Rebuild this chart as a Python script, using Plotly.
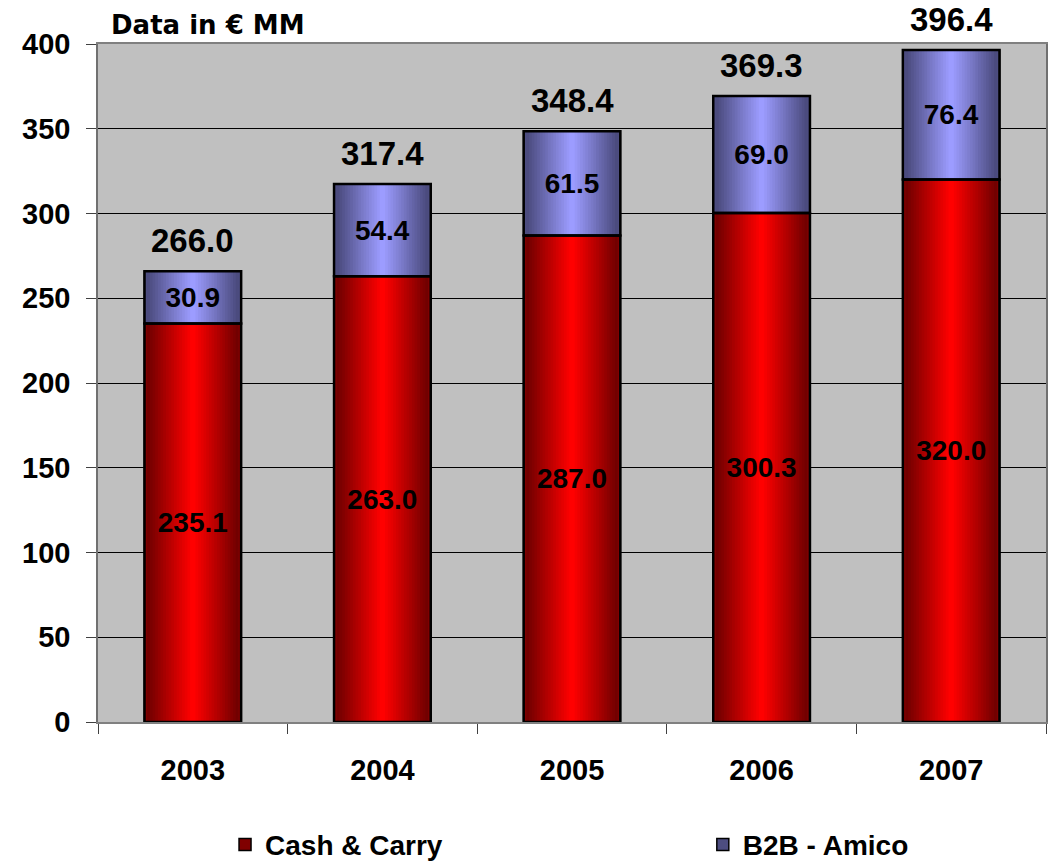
import plotly.graph_objects as go

years = ["2003", "2004", "2005", "2006", "2007"]
cash_carry = [235.1, 263.0, 287.0, 300.3, 320.0]
b2b_amico = [30.9, 54.4, 61.5, 69.0, 76.4]
totals = [266.0, 317.4, 348.4, 369.3, 396.4]
y_ticks = [0, 50, 100, 150, 200, 250, 300, 350, 400]

FONT = "Liberation Sans, Arial, sans-serif"
BAR_W = 0.51
N_LAYERS = 18


def lerp(c1, c2, t):
    return "rgb(%d,%d,%d)" % tuple(round(a + (b - a) * t) for a, b in zip(c1, c2))


fig = go.Figure()


def add_gradient(name, values, base, dark, bright, legend_color, legend_id):
    for k in range(N_LAYERS):
        t = k / (N_LAYERS - 1)
        w = BAR_W * (1 - k / N_LAYERS)
        fig.add_trace(go.Bar(
            x=years, y=values, base=base, width=w,
            marker=dict(color=lerp(dark, bright, t) if k else legend_color,
                        line=dict(width=0 if k else 1.5, color="black")),
            name=name, showlegend=(k == 0), legend=legend_id, hoverinfo="skip",
        ))


base0 = [0] * len(years)
add_gradient("Cash & Carry", cash_carry, base0, (105, 0, 0), (255, 0, 0), "#800000", "legend")
add_gradient("B2B - Amico", b2b_amico, cash_carry, (70, 70, 118), (156, 156, 255), "#4D4D80", "legend2")

seg_font = dict(family=FONT, size=28, color="black", weight="bold")
for vals, base in ((cash_carry, base0), (b2b_amico, cash_carry)):
    fig.add_trace(go.Bar(
        x=years, y=vals, base=base, width=BAR_W,
        marker=dict(color="rgba(0,0,0,0)", line=dict(width=2.5, color="black")),
        text=["%.1f" % v for v in vals], textposition="inside",
        insidetextanchor="middle", textangle=0, constraintext="none",
        textfont=seg_font, showlegend=False, hoverinfo="skip",
    ))

for i, tot in enumerate(totals):
    fig.add_annotation(x=i, y=tot, text="%.1f" % tot, showarrow=False,
                       yanchor="bottom", yshift=10,
                       font=dict(family=FONT, size=33, color="black", weight="bold"))

fig.add_annotation(xref="paper", yref="paper", x=0.012, y=1.028, xanchor="left",
                   yanchor="middle", text="Data in € MM", showarrow=False,
                   font=dict(family="DejaVu Sans, Verdana, sans-serif", size=26,
                             color="black", weight="bold"))

leg_common = dict(orientation="h", yanchor="middle", xanchor="left",
                  font=dict(family=FONT, size=28, color="black", weight="bold"),
                  bgcolor="rgba(0,0,0,0)", borderwidth=0)
fig.update_layout(
    width=1050, height=866,
    margin=dict(l=98, r=4, t=44, b=144, autoexpand=False),
    paper_bgcolor="white", plot_bgcolor="#C0C0C0",
    barmode="overlay",
    font=dict(family=FONT, color="black"),
    legend=dict(x=0.134, y=-0.181, **leg_common),
    legend2=dict(x=0.638, y=-0.181, **leg_common),
)

fig.update_xaxes(type="category", tickson="boundaries", ticks="outside", ticklen=10,
                 tickcolor="#404040", showline=True, linecolor="#808080", linewidth=1.5,
                 mirror=True, showgrid=False, ticklabelstandoff=21,
                 tickfont=dict(family=FONT, size=29, color="black", weight="bold"))
fig.update_yaxes(range=[0, 400], tickvals=y_ticks, ticks="outside", ticklen=10,
                 tickcolor="#404040", showline=True, linecolor="#707070", linewidth=1.5,
                 mirror=True, showgrid=True, gridcolor="black", gridwidth=1,
                 zeroline=False, ticklabelstandoff=10,
                 tickfont=dict(family=FONT, size=29, color="black", weight="bold"))

fig.write_html("out.html")
